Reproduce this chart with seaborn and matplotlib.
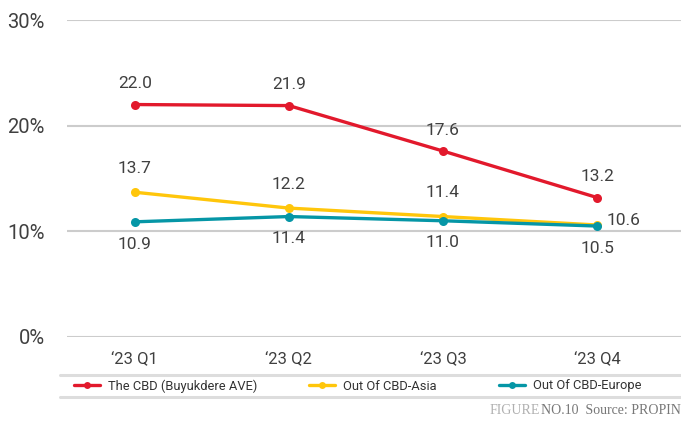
import matplotlib
matplotlib.use("Agg")
import matplotlib.pyplot as plt
from matplotlib.lines import Line2D
import seaborn as sns
import pandas as pd

# chart data
quarters = ["\u201823 Q1", "\u201823 Q2", "\u201823 Q3", "\u201823 Q4"]
cbd = [22.0, 21.9, 17.6, 13.2]
asia = [13.7, 12.2, 11.4, 10.6]
europe = [10.9, 11.4, 11.0, 10.5]
series_names = ["The CBD (Buyukdere AVE)", "Out Of CBD-Asia", "Out Of CBD-Europe"]
colors = ["#E2192C", "#FFC60B", "#0596A6"]
y_ticks = [0, 10, 20, 30]

# long-form table for seaborn
df = pd.DataFrame({
    "Quarter": quarters * 3,
    "Value": cbd + asia + europe,
    "Series": [series_names[0]] * 4 + [series_names[1]] * 4 + [series_names[2]] * 4,
})

sns.set_style("white")
plt.rcParams["font.family"] = ["Roboto", "DejaVu Sans"]

fig = plt.figure(figsize=(6.81, 4.21), dpi=100)
ax = fig.add_axes([67 / 681, 1 - 337 / 421, 1 - 67 / 681, (337 - 20) / 421])

sns.lineplot(data=df, x="Quarter", y="Value", hue="Series", palette=colors,
             marker="o", markersize=6.5, markeredgewidth=0, linewidth=2.4,
             ax=ax, legend=False, zorder=3)

ax.set_xlim(-0.44, 3.545)
ax.set_ylim(0, 30)
ax.set_yticks(y_ticks)
ax.set_yticklabels([f"{t}%" for t in y_ticks])
ax.set_xlabel("")
ax.set_ylabel("")
for s in ax.spines.values():
    s.set_visible(False)
ax.grid(axis="y", color="#cccccc", linewidth=1.5)
ax.grid(axis="x", visible=False)
ax.tick_params(axis="y", length=0, pad=16, labelsize=14.5, labelcolor="#404040")
ax.tick_params(axis="x", length=0, pad=11, labelsize=12, labelcolor="#404040")

# value labels
lab = dict(fontsize=12.5, color="#404040", ha="center", va="center",
           textcoords="offset points")
for i, v in enumerate(cbd):
    ax.annotate(f"{v:.1f}", (i, v), xytext=(0, 15), **lab)
for i, v in enumerate(asia):
    if i == 3:
        ax.annotate(f"{v:.1f}", (i, v), xytext=(19, 3), **lab)
    else:
        ax.annotate(f"{v:.1f}", (i, v), xytext=(0, 17), **lab)
for i, v in enumerate(europe):
    ax.annotate(f"{v:.1f}", (i, v), xytext=(0, -16), **lab)

# separator lines around legend
for yy in [375, 397]:
    fig.add_artist(Line2D([60 / 681, 1], [1 - yy / 421] * 2, color="#dddddd",
                          linewidth=2.2, transform=fig.transFigure))

# legend entries, one per series
leg_x = [74, 309, 499]
for name, c, x in zip(series_names, colors, leg_x):
    h = Line2D([], [], color=c, marker="o", markersize=5, linewidth=2.4,
               markeredgewidth=0)
    fig.legend(handles=[h], labels=[name], loc="center left",
               bbox_to_anchor=(x / 681, 1 - 386 / 421), frameon=False,
               fontsize=9.3, handlelength=2.0, handletextpad=0.6,
               borderaxespad=0, borderpad=0, labelcolor="#333333")

# footer
serif = ["Liberation Serif", "DejaVu Serif"]
fig.text(490 / 681, 1 - 410 / 421, "FIGURE", fontsize=10, color="#b0b0b0",
         family=serif, va="center")
fig.text(541 / 681, 1 - 410 / 421, "NO.10  Source: PROPIN", fontsize=10,
         color="#777777", family=serif, va="center")

fig.savefig("out.png", dpi=100)
